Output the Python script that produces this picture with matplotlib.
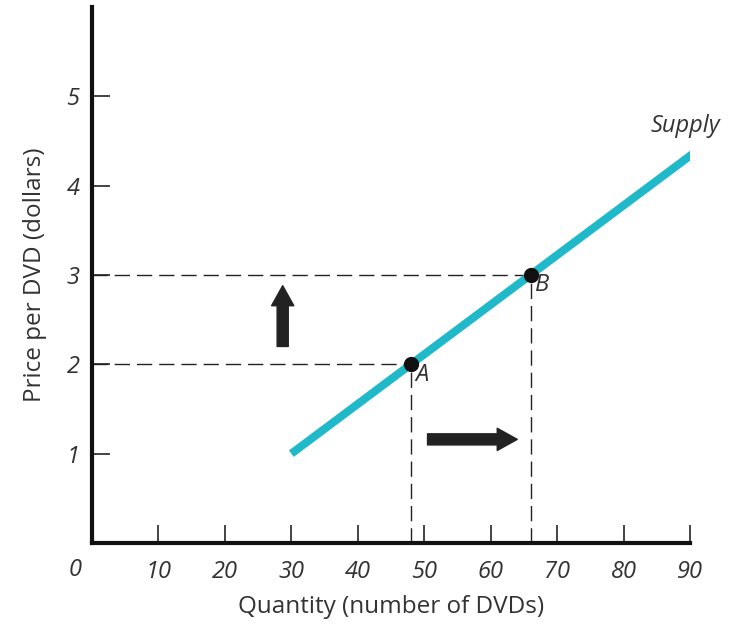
import matplotlib.pyplot as plt

# supply curve (quantity, price)
supply_q = [30, 91]
supply_p = [1.0, 4.39]

# points A and B
pt_labels = ['A', 'B']
pt_q = [48, 66]
pt_p = [2, 3]

xticks = [10, 20, 30, 40, 50, 60, 70, 80, 90]
yticks = [1, 2, 3, 4, 5]

plt.rcParams['font.family'] = ['Open Sans', 'DejaVu Sans']
txt = '#333333'
fs = 17

fig = plt.figure(figsize=(7.29, 6.25), dpi=100)
ax = fig.add_axes([0.1262, 0.1312, 0.8203, 0.8576])
ax.set_xlim(0, 90)
ax.set_ylim(0, 6.0)

for s in ['top', 'right']:
    ax.spines[s].set_visible(False)
for s in ['left', 'bottom']:
    ax.spines[s].set_linewidth(3)
    ax.spines[s].set_color('#111111')
    ax.spines[s].set_capstyle('projecting')

ax.set_xticks(xticks)
ax.set_yticks(yticks)
ax.set_xticklabels([str(v) for v in xticks], fontsize=fs, style='italic', color=txt)
ax.set_yticklabels([str(v) for v in yticks], fontsize=fs, style='italic', color=txt)
ax.tick_params(direction='in', length=13, width=1.1, color='#111111')
ax.tick_params(axis='x', pad=12)
ax.tick_params(axis='y', pad=9)
ax.text(-1.6, -0.17, '0', fontsize=fs, style='italic', color=txt, ha='right', va='top')

# dashed guide lines
for q, p in zip(pt_q, pt_p):
    ax.plot([0, q], [p, p], color='#222222', lw=1.0, dashes=(11, 5))
    ax.plot([q, q], [0, p], color='#222222', lw=1.0, dashes=(11, 5))

ax.plot(supply_q, supply_p, color='#1fb9c9', lw=5.8, solid_capstyle='butt', zorder=3)
ax.plot(pt_q, pt_p, 'o', color='#111111', ms=10, zorder=4)

ax.text(pt_q[0] + 0.7, pt_p[0] + 0.02, pt_labels[0], fontsize=fs, style='italic', color=txt, ha='left', va='top')
ax.text(pt_q[1] + 0.7, pt_p[1] + 0.02, pt_labels[1], fontsize=fs, style='italic', color=txt, ha='left', va='top')
ax.text(94.5, 4.53, 'Supply', fontsize=fs, style='italic', color=txt, ha='right', va='bottom')

arrow = dict(arrowstyle='simple,head_width=1.0,head_length=0.9,tail_width=0.5',
             color='#222222', mutation_scale=16, shrinkA=0, shrinkB=0)
ax.annotate('', xy=(28.7, 2.88), xytext=(28.7, 2.2), arrowprops=arrow)
ax.annotate('', xy=(64, 1.16), xytext=(50.5, 1.16), arrowprops=arrow)

ax.set_xlabel('Quantity (number of DVDs)', fontsize=fs + 0.5, color=txt, labelpad=8)
ax.set_ylabel('Price per DVD (dollars)', fontsize=fs + 0.5, color=txt, labelpad=14)

fig.savefig('out.png', dpi=100)
